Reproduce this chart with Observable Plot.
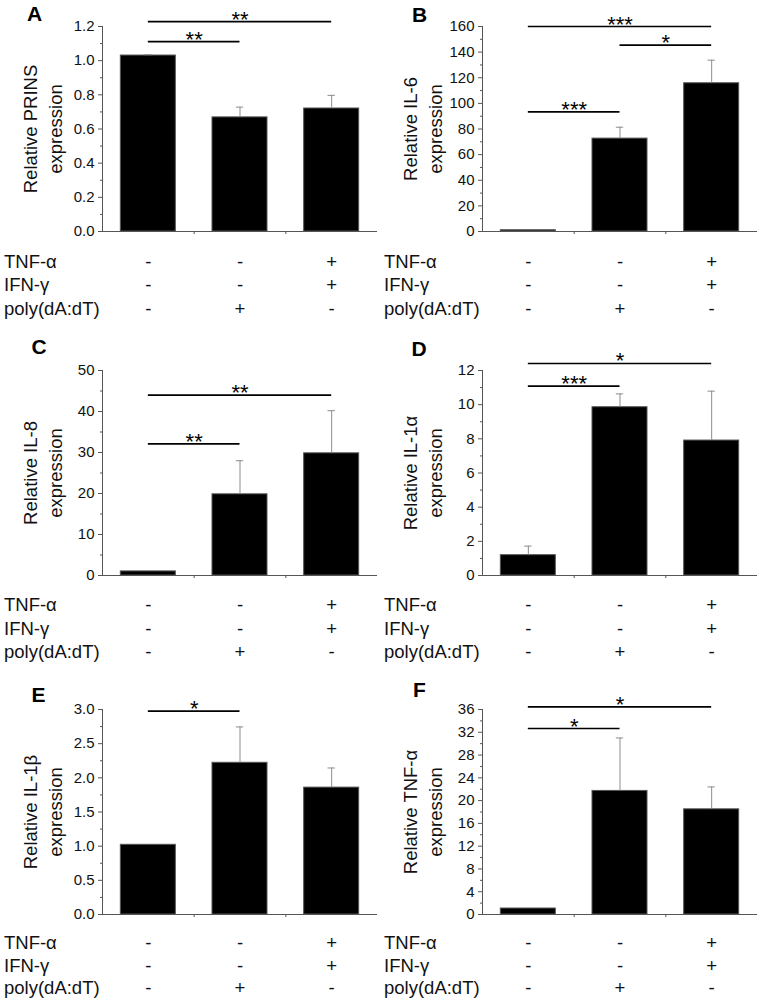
<!DOCTYPE html>
<html><head><meta charset="utf-8">
<script src="https://cdn.jsdelivr.net/npm/d3@7"></script>
<script src="https://cdn.jsdelivr.net/npm/@observablehq/plot@0.6"></script>
<style>
body{margin:0;background:#fff;}
#fig{position:relative;width:761px;height:999px;overflow:hidden;font-family:"Liberation Sans",Arial,sans-serif;background:#fff;}
.panel{position:absolute;}
.letter{position:absolute;font-weight:bold;font-size:21px;line-height:1;color:#000;}
</style></head><body><div id="fig"></div>
<script>
// ---- data ----
const conditions = ["control", "poly(dA:dT)", "TNF-α + IFN-γ"];
const treatmentNames = ["TNF-α", "IFN-γ", "poly(dA:dT)"];
const treatmentSigns = [
  ["-", "-", "+"],
  ["-", "-", "+"],
  ["-", "+", "-"]
];

const panelLetters = ["A", "B", "C", "D", "E", "F"];
const yLabels = [
  "Relative PRINS\nexpression",
  "Relative IL-6\nexpression",
  "Relative IL-8\nexpression",
  "Relative IL-1α\nexpression",
  "Relative IL-1β\nexpression",
  "Relative TNF-α\nexpression"
];
const meansA = [1.03, 0.668, 0.72];   const errA = [0.005, 0.06, 0.077];
const meansB = [1.0, 72.5, 115.7];    const errB = [0, 8.9, 18.0];
const meansC = [1.0, 19.8, 29.8];     const errC = [0, 8.2, 10.4];
const meansD = [1.19, 9.85, 7.9];     const errD = [0.53, 0.78, 2.89];
const meansE = [1.02, 2.22, 1.857];   const errE = [0, 0.525, 0.287];
const meansF = [1.05, 21.7, 18.47];   const errF = [0, 9.3, 3.93];

const tickLabelsA = ["0.0", "0.2", "0.4", "0.6", "0.8", "1.0", "1.2"];
const tickLabelsB = ["0", "20", "40", "60", "80", "100", "120", "140", "160"];
const tickLabelsC = ["0", "10", "20", "30", "40", "50"];
const tickLabelsD = ["0", "2", "4", "6", "8", "10", "12"];
const tickLabelsE = ["0.0", "0.5", "1.0", "1.5", "2.0", "2.5", "3.0"];
const tickLabelsF = ["0", "4", "8", "12", "16", "20", "24", "28", "32", "36"];

// significance brackets: from condition index, to condition index, level (data units), stars
const sigA = [{from: 0, to: 1, level: 1.112, stars: "**"}, {from: 0, to: 2, level: 1.229, stars: "**"}];
const sigB = [{from: 0, to: 1, level: 93.4, stars: "***"}, {from: 1, to: 2, level: 145.4, stars: "*"}, {from: 0, to: 2, level: 160, stars: "***"}];
const sigC = [{from: 0, to: 1, level: 32.1, stars: "**"}, {from: 0, to: 2, level: 44.0, stars: "**"}];
const sigD = [{from: 0, to: 1, level: 11.08, stars: "***"}, {from: 0, to: 2, level: 12.41, stars: "*"}];
const sigE = [{from: 0, to: 1, level: 2.975, stars: "*"}];
const sigF = [{from: 0, to: 1, level: 32.66, stars: "*"}, {from: 0, to: 2, level: 36.46, stars: "*"}];

const panels = [
  {means: meansA, errs: errA, ticks: tickLabelsA, sig: sigA},
  {means: meansB, errs: errB, ticks: tickLabelsB, sig: sigB},
  {means: meansC, errs: errC, ticks: tickLabelsC, sig: sigC},
  {means: meansD, errs: errD, ticks: tickLabelsD, sig: sigD},
  {means: meansE, errs: errE, ticks: tickLabelsE, sig: sigE},
  {means: meansF, errs: errF, ticks: tickLabelsF, sig: sigF}
];

// ---- layout ----
const FONT = '"Liberation Sans", Arial, sans-serif';
const panelPos = [[0, -14], [380, -14], [0, 329.5], [380, 329.5], [0, 669.3], [380, 669.3]];
const letterPos = [[27, 2.5], [412, 4], [31.5, 335.5], [411.5, 337.5], [31.5, 684], [413, 679]];
const tableDy = [20, 20, 19.5, 19.5, 18.5, 18.5];
const tableLH = [1.26, 1.26, 1.25, 1.25, 1.22, 1.22];

const fig = document.getElementById("fig");

panels.forEach((p, k) => {
  const data = conditions.map((c, i) => ({i, c, value: p.means[i], err: p.errs[i]}));
  const withErr = data.filter(d => d.err > 0);
  const ticks = p.ticks.map(Number);
  const minor = d3.pairs(ticks).map(([a, b]) => (a + b) / 2);
  const ymax = ticks[ticks.length - 1];
  const fmt = d => p.ticks[ticks.indexOf(d)];

  const chart = Plot.plot({
    width: 380, height: 340,
    marginLeft: 102, marginRight: 3, marginTop: 40, marginBottom: 95,
    style: {fontFamily: FONT, color: "#1a1a1a", background: "transparent"},
    x: {domain: [-0.5, 2.5], axis: null},
    y: {domain: [0, ymax], axis: null},
    marks: [
      Plot.rectY(data, {x1: d => d.i - 0.3, x2: d => d.i + 0.3, y: "value", fill: "#000", stroke: "#555", strokeWidth: 1}),
      Plot.ruleX(withErr, {x: "i", y1: "value", y2: d => d.value + d.err, stroke: "#8c8c8c", strokeWidth: 1}),
      Plot.ruleY(withErr, {y: d => d.value + d.err, x1: d => d.i - 0.04, x2: d => d.i + 0.04, stroke: "#8c8c8c", strokeWidth: 1}),
      Plot.ruleX([-0.5], {stroke: "#555", strokeWidth: 1}),
      Plot.ruleY([0], {stroke: "#555", strokeWidth: 1}),
      Plot.axisY(ticks, {tickSize: 4, tickPadding: 4, fontSize: 15, tickFormat: fmt, label: null, stroke: "#555", fill: "#111"}),
      Plot.axisY(minor, {tickSize: 2, tickFormat: () => "", label: null, stroke: "#555"}),
      Plot.axisX([0.5, 1.5], {tickSize: 3, tickFormat: () => "", label: null, stroke: "#555"}),
      Plot.ruleY(p.sig, {y: "level", x1: "from", x2: "to", stroke: "#000", strokeWidth: 1.7}),
      Plot.text(p.sig, {x: d => (d.from + d.to) / 2, y: "level", text: "stars", fontSize: 22, lineAnchor: "bottom", dy: 5, fill: "#000"}),
      Plot.text([yLabels[k]], {text: d => d, frameAnchor: "left", rotate: -90, dx: -61, fontSize: 18.5, lineHeight: 1.33, lineAnchor: "middle", textAnchor: "middle", fill: "#111"}),
      Plot.text(data, {x: "i", text: d => treatmentSigns.map(r => r[d.i]).join("\n"), frameAnchor: "bottom", lineAnchor: "top", dy: tableDy[k], fontSize: 18.5, lineHeight: tableLH[k], fill: "#111"}),
      Plot.text([treatmentNames.join("\n")], {text: d => d, frameAnchor: "bottom-left", textAnchor: "start", lineAnchor: "top", dx: -98.5, dy: tableDy[k], fontSize: 18.5, lineHeight: tableLH[k], fill: "#111"})
    ]
  });
  const wrap = document.createElement("div");
  wrap.className = "panel";
  wrap.style.left = panelPos[k][0] + "px";
  wrap.style.top = panelPos[k][1] + "px";
  wrap.appendChild(chart);
  fig.appendChild(wrap);

  const letter = document.createElement("div");
  letter.className = "letter";
  letter.textContent = panelLetters[k];
  letter.style.left = letterPos[k][0] + "px";
  letter.style.top = letterPos[k][1] + "px";
  fig.appendChild(letter);
});
</script>
</body></html>
